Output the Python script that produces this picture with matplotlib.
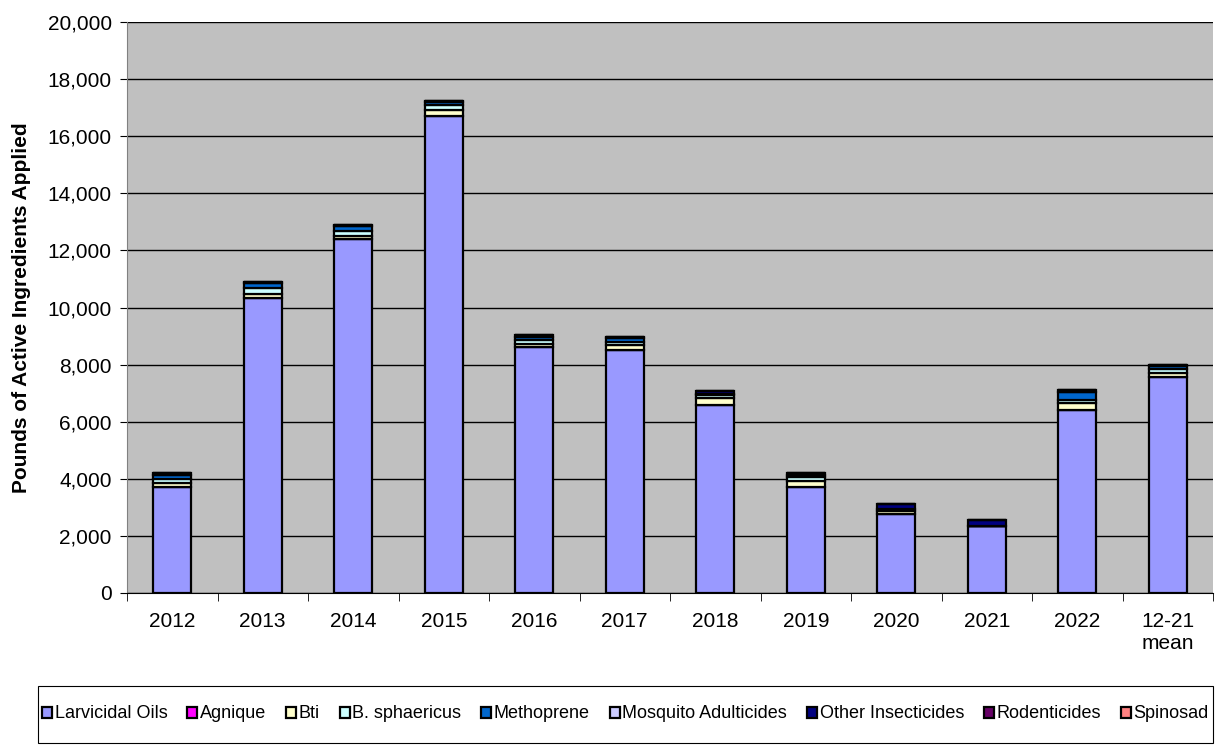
import matplotlib

matplotlib.use("Agg")
import matplotlib.pyplot as plt
from matplotlib.patches import Rectangle
import numpy as np

plt.rcParams["font.family"] = ["Liberation Sans", "DejaVu Sans"]

CATEGORIES = ["2012", "2013", "2014", "2015", "2016", "2017", "2018", "2019",
              "2020", "2021", "2022", "12-21\nmean"]

SERIES = ["Larvicidal Oils", "Agnique", "Bti", "B. sphaericus", "Methoprene",
          "Mosquito Adulticides", "Other Insecticides", "Rodenticides", "Spinosad"]

larvicidal_oils = [3700, 10350, 12400, 16700, 8600, 8500, 6600, 3700, 2750, 2330, 6400, 7550]
agnique = [0, 0, 0, 0, 0, 0, 0, 0, 0, 0, 0, 0]
bti = [150, 130, 120, 230, 130, 200, 230, 230, 130, 0, 250, 170]
b_sphaericus = [150, 200, 150, 150, 120, 100, 90, 130, 50, 0, 100, 110]
methoprene = [130, 190, 200, 120, 100, 130, 40, 90, 20, 0, 300, 130]
mosquito_adulticides = [0, 0, 0, 0, 0, 0, 0, 0, 0, 0, 0, 0]
other_insecticides = [70, 30, 30, 50, 80, 20, 120, 50, 180, 210, 50, 40]
rodenticides = [0, 0, 0, 0, 0, 0, 0, 0, 0, 0, 0, 0]
spinosad = [0, 0, 0, 0, 0, 0, 0, 0, 0, 0, 0, 0]

COLORS = ["#9999FF", "#FF00FF", "#FFFFCC", "#CCFFFF", "#0066CC",
          "#CCCCFF", "#000080", "#660066", "#FF8080"]

data = [larvicidal_oils, agnique, bti, b_sphaericus, methoprene,
        mosquito_adulticides, other_insecticides, rodenticides, spinosad]

W, H = 1231, 753
fig = plt.figure(figsize=(W / 100, H / 100), dpi=100)
ax = fig.add_axes([127 / W, 1 - 593 / H, (1213 - 127) / W, (593 - 22) / H])
ax.set_facecolor("#C0C0C0")

x = np.arange(len(CATEGORIES))
bottom = np.zeros(len(CATEGORIES))
handles = []
for name, vals, color in zip(SERIES, data, COLORS):
    vals = np.array(vals, dtype=float)
    bars = ax.bar(x, vals, width=0.42, bottom=bottom, color=color,
                  edgecolor="black", linewidth=1.6, label=name, zorder=3)
    handles.append(bars)
    bottom += vals

ax.set_ylim(0, 20000)
ax.set_xlim(-0.5, len(CATEGORIES) - 0.5)
ax.set_yticks(np.arange(0, 20001, 2000))
ax.set_yticklabels([f"{v:,}" for v in range(0, 20001, 2000)], fontsize=15)
ax.yaxis.grid(True, color="black", linewidth=1.0, zorder=0)
ax.set_axisbelow(True)

ax.set_xticks(x)
ax.set_xticklabels(CATEGORIES, fontsize=15, linespacing=1.15)
ax.tick_params(axis="x", length=0, pad=14)
ax.set_xticks(np.arange(-0.5, len(CATEGORIES)), minor=True)
ax.tick_params(axis="x", which="minor", length=6, color="black")
ax.tick_params(axis="y", length=5, pad=6)

for side in ("top", "right"):
    ax.spines[side].set_visible(False)
ax.spines["left"].set_color("#808080")
ax.spines["bottom"].set_color("black")

ax.set_ylabel("Pounds of Active Ingredients Applied", fontsize=15,
              fontweight="bold", labelpad=12)

# legend frame drawn by hand to match the wide box
fig.patches.append(Rectangle((38 / W, 1 - 743 / H), (1213 - 38) / W, (743 - 686) / H,
                             transform=fig.transFigure, facecolor="white",
                             edgecolor="black", linewidth=0.8))
fig.legend(handles=handles, labels=SERIES, loc="center",
           bbox_to_anchor=((38 + 1213) / 2 / W, 1 - 714 / H),
           ncol=len(SERIES), fontsize=13, frameon=False,
           handlelength=0.55, handleheight=0.55, handletextpad=0.15,
           columnspacing=1.1)

fig.savefig("out.png", dpi=100)
